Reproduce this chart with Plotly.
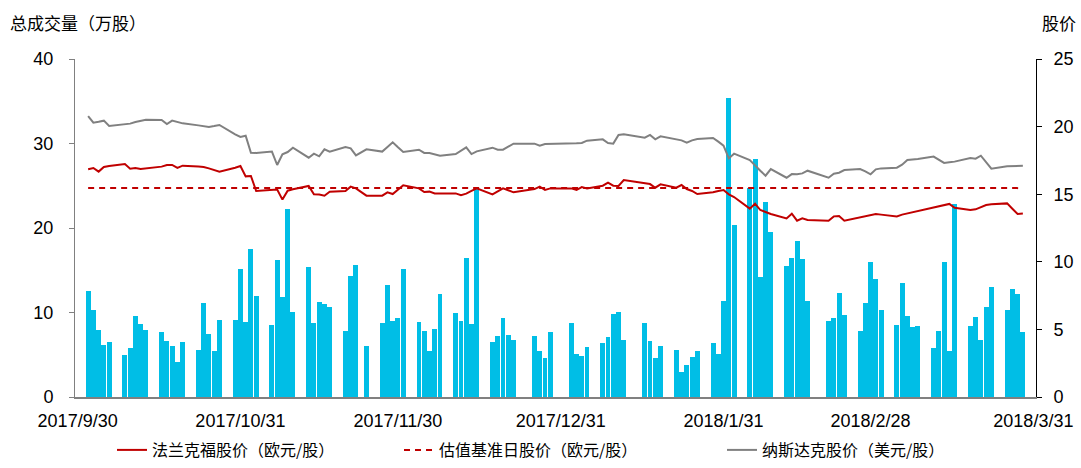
import pandas as pd
import plotly.graph_objects as go

# US trading days, 2017-10-02 .. 2018-03-29
HOLIDAYS = ["2017-11-23", "2017-12-25", "2018-01-01", "2018-01-15", "2018-02-19"]
dates = [d for d in pd.bdate_range("2017-10-02", "2018-03-29")
         if d.strftime("%Y-%m-%d") not in HOLIDAYS]

# total volume (万股), one value per trading day
volume = [
    12.6, 10.3, 7.9, 6.2, 6.5,
    5.0, 5.8, 9.6, 8.6, 7.9,
    7.7, 6.6, 6.0, 4.2, 6.5,
    5.6, 11.1, 7.4, 5.5, 9.1,
    9.1, 15.2, 8.9, 17.5, 11.9,
    8.5, 16.2, 11.8, 22.3, 10.1,
    15.4, 8.8, 11.3, 11.0, 10.7,
    7.8, 14.3, 15.6, 6.0,
    8.8, 13.2, 9.0, 9.4, 15.2,
    8.9, 7.8, 5.4, 8.0, 12.2,
    10.0, 9.0, 16.4, 8.6, 24.9,
    6.5, 7.2, 9.3, 7.3, 6.8,
    7.2, 5.4, 4.6, 7.7,
    8.8, 5.1, 4.9, 5.9,
    6.4, 7.1, 9.8, 10.1, 6.8,
    8.8, 6.6, 4.6, 6.0,
    5.6, 3.0, 3.8, 4.7, 5.5,
    6.4, 5.1, 11.4, 35.4, 20.3,
    24.7, 28.2, 14.2, 23.1, 19.5,
    15.5, 16.4, 18.5, 16.3, 11.4,
    9.0, 9.4, 12.3, 9.7,
    7.8, 11.1, 16.0, 14.0, 10.3,
    8.5, 13.5, 9.6, 8.3, 8.4,
    5.8, 7.8, 16.0, 5.4, 22.9,
    8.4, 9.5, 6.7, 10.7, 13.0,
    10.3, 12.8, 12.2, 7.7,
]

# Frankfurt price (EUR)
frankfurt = [
    16.84, 16.94, 16.67, 17.01, 17.09,
    17.23, 16.89, 16.94, 16.86, 16.91,
    17.04, 17.16, 17.16, 16.94, 17.11,
    17.04, 17.01, 16.91, 16.81, 16.67,
    16.96, 17.09, 16.32, 16.35, 15.24,
    15.29, 15.34, 14.60, 15.26, 15.36,
    15.61, 14.99, 14.97, 14.89, 15.19,
    15.24, 15.56, 15.43, 14.89,
    14.89, 15.14, 15.01, 15.31, 15.66,
    15.43, 15.16, 15.19, 15.06, 15.06,
    15.06, 14.92, 15.04, 15.24, 15.43,
    14.99, 15.21, 15.43, 15.29, 15.14,
    15.38, 15.56, 15.31, 15.43,
    15.43, 15.31, 15.53, 15.43,
    15.63, 15.85, 15.63, 15.61, 16.05,
    15.85, 15.75, 15.48, 15.73,
    15.48, 15.68, 15.38, 15.24, 15.01,
    15.14, 15.24, 15.31, 14.99, 14.79,
    13.93, 14.30, 13.83, 13.66, 13.54,
    13.21, 13.56, 13.04, 13.21, 13.09,
    13.04, 13.36, 13.39, 13.04,
    13.29, 13.34, 13.44, 13.54, 13.49,
    13.36, 13.49, 13.58, 13.63, 13.71,
    13.98, 14.10, 14.18, 14.28, 14.00,
    13.83, 13.88, 14.03, 14.20, 14.25,
    14.32, 13.93, 13.54, 13.58,
]

# Nasdaq price (USD)
nasdaq = [
    20.78, 20.29, 20.36, 20.44, 20.04,
    20.17, 20.22, 20.34, 20.44, 20.51,
    20.49, 20.19, 20.44, 20.34, 20.24,
    20.09, 20.04, 19.97, 20.04, 20.12,
    19.43, 19.23, 19.33, 18.07, 18.05,
    18.15, 17.16, 17.95, 18.12, 18.44,
    17.70, 18.00, 17.80, 18.32, 18.15,
    18.49, 18.39, 17.87, 18.32,
    18.15, 18.49, 18.84, 18.47, 18.12,
    18.29, 18.05, 18.05, 17.95, 17.85,
    17.97, 18.22, 18.47, 17.97, 18.17,
    18.44, 18.29, 18.29, 18.54, 18.74,
    18.74, 18.59, 18.71, 18.71,
    18.74, 18.76, 18.79, 18.96,
    19.06, 18.79, 18.74, 19.38, 19.43,
    19.18, 19.38, 19.06, 19.28,
    19.03, 18.98, 18.81, 18.98, 19.08,
    19.16, 18.89, 18.59, 17.65, 18.00,
    17.53, 17.11, 16.74, 16.37, 16.86,
    16.22, 16.49, 16.48, 16.54, 16.74,
    16.22, 16.52, 16.59, 16.79,
    16.86, 16.69, 16.47, 16.84, 16.91,
    16.96, 17.18, 17.53, 17.55, 17.60,
    17.78, 17.53, 17.31, 17.36, 17.41,
    17.68, 17.63, 17.85, 17.33, 16.89,
    17.06, 17.09, 17.11, 17.11,
]

BASE_PRICE = 15.45  # 估值基准日股价
base_dates = [dates[0], dates[-1]]
base_line = [BASE_PRICE, BASE_PRICE]

tick_dates = ["2017-09-30", "2017-10-31", "2017-11-30", "2017-12-31",
              "2018-01-31", "2018-02-28", "2018-03-31"]
tick_text = ["2017/9/30", "2017/10/31", "2017/11/30", "2017/12/31",
             "2018/1/31", "2018/2/28", "2018/3/31"]

CYAN = "#00BEE6"
RED = "#C00000"
GREY = "#808080"
NUM_FONT = dict(family="Liberation Sans, Arial, sans-serif", size=18, color="#000000")
CJK_FONT = dict(family="Noto Sans CJK SC, sans-serif", size=17, color="#000000")
LEG_FONT = dict(family="Noto Sans CJK SC, sans-serif", size=16, color="#000000")

fig = go.Figure()
fig.add_trace(go.Bar(
    x=dates, y=volume,
    width=86400000 * 0.94,
    marker=dict(color=CYAN, line=dict(width=0)),
    showlegend=False,
    name="总成交量",
))
fig.add_trace(go.Scatter(
    x=dates, y=frankfurt, yaxis="y2", mode="lines",
    line=dict(color=RED, width=2),
    name="法兰克福股价（欧元/股）", legend="legend",
))
fig.add_trace(go.Scatter(
    x=base_dates, y=base_line, yaxis="y2", mode="lines",
    line=dict(color=RED, width=2, dash="6px,5px"),
    name="估值基准日股价（欧元/股）", legend="legend2",
))
fig.add_trace(go.Scatter(
    x=dates, y=nasdaq, yaxis="y2", mode="lines",
    line=dict(color=GREY, width=2),
    name="纳斯达克股价（美元/股）", legend="legend3",
))

# plot area spans x 75..1036 px, y 59..397 px
def px_x(px):
    return (px - 75) / 961


def px_y(px):
    return (397 - px) / 338


LEG = dict(orientation="h", y=px_y(467), yanchor="bottom", xanchor="left",
           font=LEG_FONT, bgcolor="rgba(0,0,0,0)", borderwidth=0)

fig.update_layout(
    width=1081, height=468,
    paper_bgcolor="white", plot_bgcolor="white",
    margin=dict(l=75, r=45, t=59, b=71, autoexpand=False),
    bargap=0,
    font=NUM_FONT,
    xaxis=dict(
        type="date",
        range=["2017-09-29 12:00", "2018-03-31 12:00"],
        tickvals=tick_dates, ticktext=tick_text,
        showgrid=False, zeroline=False,
        showline=True, linecolor=GREY, linewidth=2,
        ticks="", tickfont=NUM_FONT, ticklabelstandoff=6,
        automargin=False,
    ),
    yaxis=dict(
        range=[0, 40], dtick=10,
        showgrid=False, zeroline=False,
        showline=True, linecolor=GREY, linewidth=1,
        ticks="outside", ticklen=5, tickcolor=GREY,
        tickfont=NUM_FONT, ticklabelstandoff=12,
        automargin=False,
    ),
    yaxis2=dict(
        overlaying="y", side="right",
        range=[0, 25], dtick=5,
        showgrid=False, zeroline=False,
        showline=True, linecolor="#000000", linewidth=1,
        ticks="outside", ticklen=5, tickcolor="#000000",
        tickfont=NUM_FONT, ticklabelstandoff=8,
        automargin=False,
    ),
    legend=dict(LEG, x=px_x(112)),
    legend2=dict(LEG, x=px_x(399)),
    legend3=dict(LEG, x=px_x(722)),
    annotations=[
        dict(text="总成交量（万股）", xref="paper", yref="paper",
             x=px_x(8), y=px_y(22), xanchor="left", yanchor="middle",
             showarrow=False, font=CJK_FONT),
        dict(text="股价", xref="paper", yref="paper",
             x=px_x(1040), y=px_y(22), xanchor="left", yanchor="middle",
             showarrow=False, font=CJK_FONT),
    ],
)

# the page body has a default 8px margin; drop it so the figure sits at 0,0
fig.write_html("out.html", config={"displayModeBar": False},
               post_script="document.body.style.margin='0';")
